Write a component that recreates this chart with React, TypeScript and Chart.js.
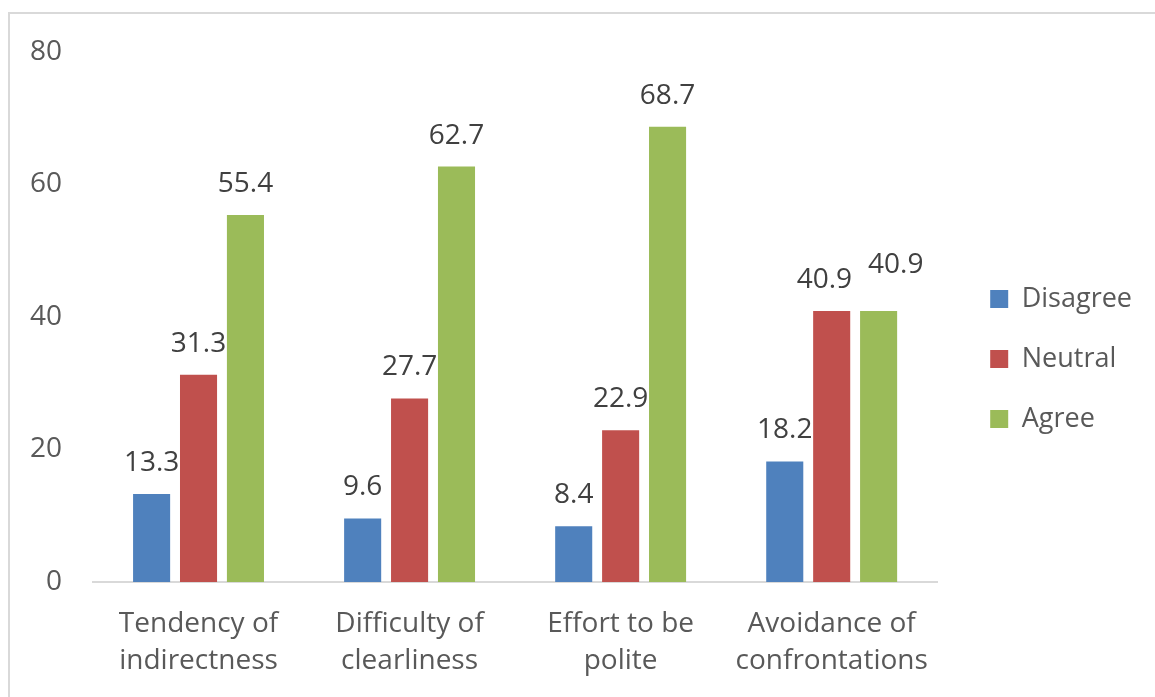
import { useEffect, useRef } from "react";
import { Chart, registerables } from "chart.js";

Chart.register(...registerables);

const categories = [
  ["Tendency of", "indirectness"],
  ["Difficulty of", "clearliness"],
  ["Effort to be", "polite"],
  ["Avoidance of", "confrontations"],
];
const seriesNames = ["Disagree", "Neutral", "Agree"];
const disagree = [13.3, 9.6, 8.4, 18.2];
const neutral = [31.3, 27.7, 22.9, 40.9];
const agree = [55.4, 62.7, 68.7, 40.9];
const yMin = 0;
const yMax = 80;
const yStep = 20;

const FONT = '"Open Sans", "Noto Sans", sans-serif';

const dataLabels = {
  id: "dataLabels",
  afterDatasetsDraw(chart: any) {
    const ctx = chart.ctx;
    ctx.save();
    ctx.font = `28px ${FONT}`;
    ctx.fillStyle = "#404040";
    ctx.textAlign = "center";
    ctx.textBaseline = "alphabetic";
    const nCat = chart.data.labels.length;
    for (let j = 0; j < nCat; j++) {
      const items: any[] = [];
      chart.data.datasets.forEach((ds: any, i: number) => {
        const bar = chart.getDatasetMeta(i).data[j];
        const text = String(ds.data[j]);
        const w = ctx.measureText(text).width;
        items.push({ text, x: bar.x, y: bar.y - 23, w });
      });
      // simple collision avoidance similar to the original renderer
      for (let k = 1; k < items.length; k++) {
        const prev = items[k - 1];
        const cur = items[k];
        const prevRight = prev.x + prev.w / 2;
        const curLeft = cur.x - cur.w / 2;
        if (prevRight > curLeft && Math.abs(prev.y - cur.y) < 20) {
          const need = prevRight - curLeft + 16;
          prev.x -= need * 0.3;
          cur.x += need * 0.7;
          cur.y -= 15;
        }
      }
      items.forEach((it) => ctx.fillText(it.text, it.x, it.y));
    }
    ctx.restore();
  },
};

const legendShift = {
  id: "legendShift",
  afterLayout(chart: any) {
    const l = chart.legend;
    if (!l) return;
    const dx = chart.chartArea.right + 20 - l.left;
    l.left += dx;
    l.right += dx;
    l.top -= 7;
    l.bottom -= 7;
  },
};

export default function App() {
  const ref = useRef<HTMLCanvasElement>(null);
  useEffect(() => {
    if (!ref.current) return;
    const chart = new Chart(ref.current, {
      type: "bar",
      data: {
        labels: categories,
        datasets: [
          { label: seriesNames[0], data: disagree, backgroundColor: "#4F81BD" },
          { label: seriesNames[1], data: neutral, backgroundColor: "#C0504D" },
          { label: seriesNames[2], data: agree, backgroundColor: "#9BBB59" },
        ],
      },
      options: {
        responsive: false,
        animation: false,
        datasets: {
          bar: { categoryPercentage: 0.667, barPercentage: 0.79 },
        },
        layout: { padding: { top: 38, left: 10, right: 33, bottom: 17 } },
        plugins: {
          tooltip: { enabled: false },
          legend: {
            position: "right",
            labels: {
              boxWidth: 18,
              boxHeight: 18,
              padding: 33,
              color: "#595959",
              font: { family: FONT, size: 27 },
            },
          },
        },
        scales: {
          x: {
            grid: { display: false, drawTicks: false },
            border: { display: true, color: "#d9d9d9", width: 2 },
            ticks: {
              color: "#595959",
              padding: 24,
              font: { family: FONT, size: 28, lineHeight: 1.32 },
            },
            afterFit(scale: any) {
              scale.height = 98;
            },
          },
          y: {
            min: yMin,
            max: yMax,
            grid: { display: false, drawTicks: false },
            border: { display: false },
            ticks: {
              stepSize: yStep,
              color: "#595959",
              padding: 31,
              font: { family: FONT, size: 28 },
            },
            afterFit(scale: any) {
              scale.width = 73;
              scale.paddingTop = 0;
              scale.paddingBottom = 0;
            },
          },
        },
      },
      plugins: [dataLabels, legendShift],
    });
    return () => chart.destroy();
  }, []);
  return (
    <div
      style={{
        position: "absolute",
        left: 8,
        top: 12,
        width: 1147,
        height: 685,
        boxSizing: "border-box",
        borderTop: "2px solid #d9d9d9",
        borderLeft: "2px solid #d9d9d9",
        background: "#fff",
      }}
    >
      <canvas ref={ref} width={1145} height={683} style={{ display: "block" }} />
    </div>
  );
}
